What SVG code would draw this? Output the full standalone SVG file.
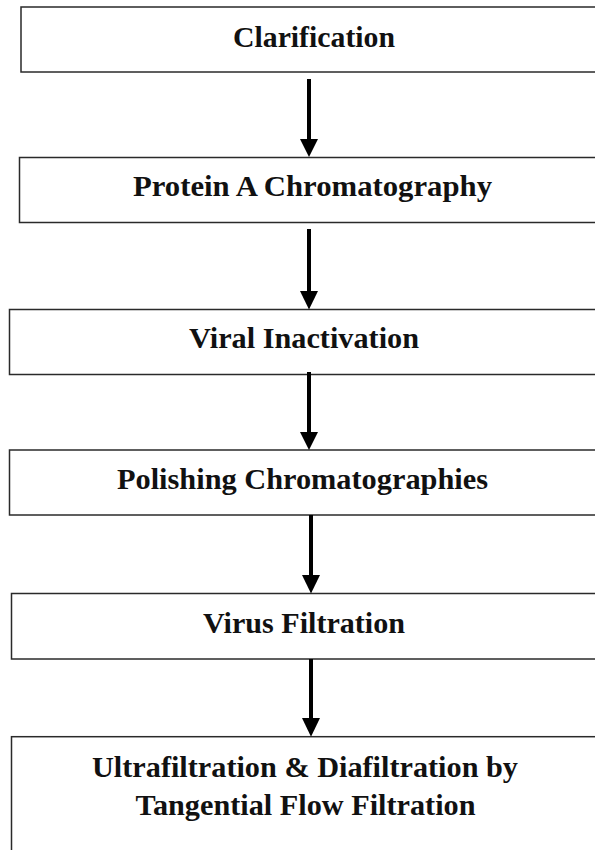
<svg xmlns="http://www.w3.org/2000/svg" width="595" height="850" viewBox="0 0 595 850">
<style>
.box{fill:#fff;stroke:#2a2a2a;stroke-width:1.5}
.lbl{font-family:"Liberation Serif","Times New Roman",serif;font-weight:bold;font-size:29px;fill:#111}
.arr{stroke:#000;stroke-width:4;fill:none}
</style>
<rect width="595" height="850" fill="#fff"/>
<g id="n1"><rect class="box" x="21" y="7" width="590" height="65"/><text class="lbl" x="233" y="47" textLength="162" lengthAdjust="spacingAndGlyphs">Clarification</text></g>
<g id="n2"><rect class="box" x="19.5" y="157.5" width="590" height="65"/><text class="lbl" x="133" y="196" textLength="359" lengthAdjust="spacingAndGlyphs">Protein A Chromatography</text></g>
<g id="n3"><rect class="box" x="9.5" y="309.5" width="600" height="65"/><text class="lbl" x="189" y="348" textLength="230" lengthAdjust="spacingAndGlyphs">Viral Inactivation</text></g>
<g id="n4"><rect class="box" x="9.5" y="450" width="600" height="65"/><text class="lbl" x="117" y="488.5" textLength="371" lengthAdjust="spacingAndGlyphs">Polishing Chromatographies</text></g>
<g id="n5"><rect class="box" x="11.5" y="593.5" width="600" height="65.5"/><text class="lbl" x="203" y="633" textLength="202" lengthAdjust="spacingAndGlyphs">Virus Filtration</text></g>
<g id="n6"><rect class="box" x="11.5" y="736.7" width="600" height="130"/><text class="lbl" x="92" y="777" textLength="426" lengthAdjust="spacingAndGlyphs">Ultrafiltration &amp; Diafiltration by</text><text class="lbl" x="135.5" y="814.5" textLength="340" lengthAdjust="spacingAndGlyphs">Tangential Flow Filtration</text></g>
<g id="connectors">
<line class="arr" x1="309" y1="79" x2="309" y2="140"/><path d="M300,139 L318,139 L309,157 Z"/>
<line class="arr" x1="309" y1="229" x2="309" y2="292"/><path d="M300,291 L318,291 L309,309.5 Z"/>
<line class="arr" x1="309" y1="372" x2="309" y2="433"/><path d="M300,432 L318,432 L309,450 Z"/>
<line class="arr" x1="311" y1="515" x2="311" y2="576"/><path d="M302,575 L320,575 L311,593.5 Z"/>
<line class="arr" x1="311" y1="659" x2="311" y2="719"/><path d="M302,718 L320,718 L311,736.7 Z"/>
</g>
</svg>
